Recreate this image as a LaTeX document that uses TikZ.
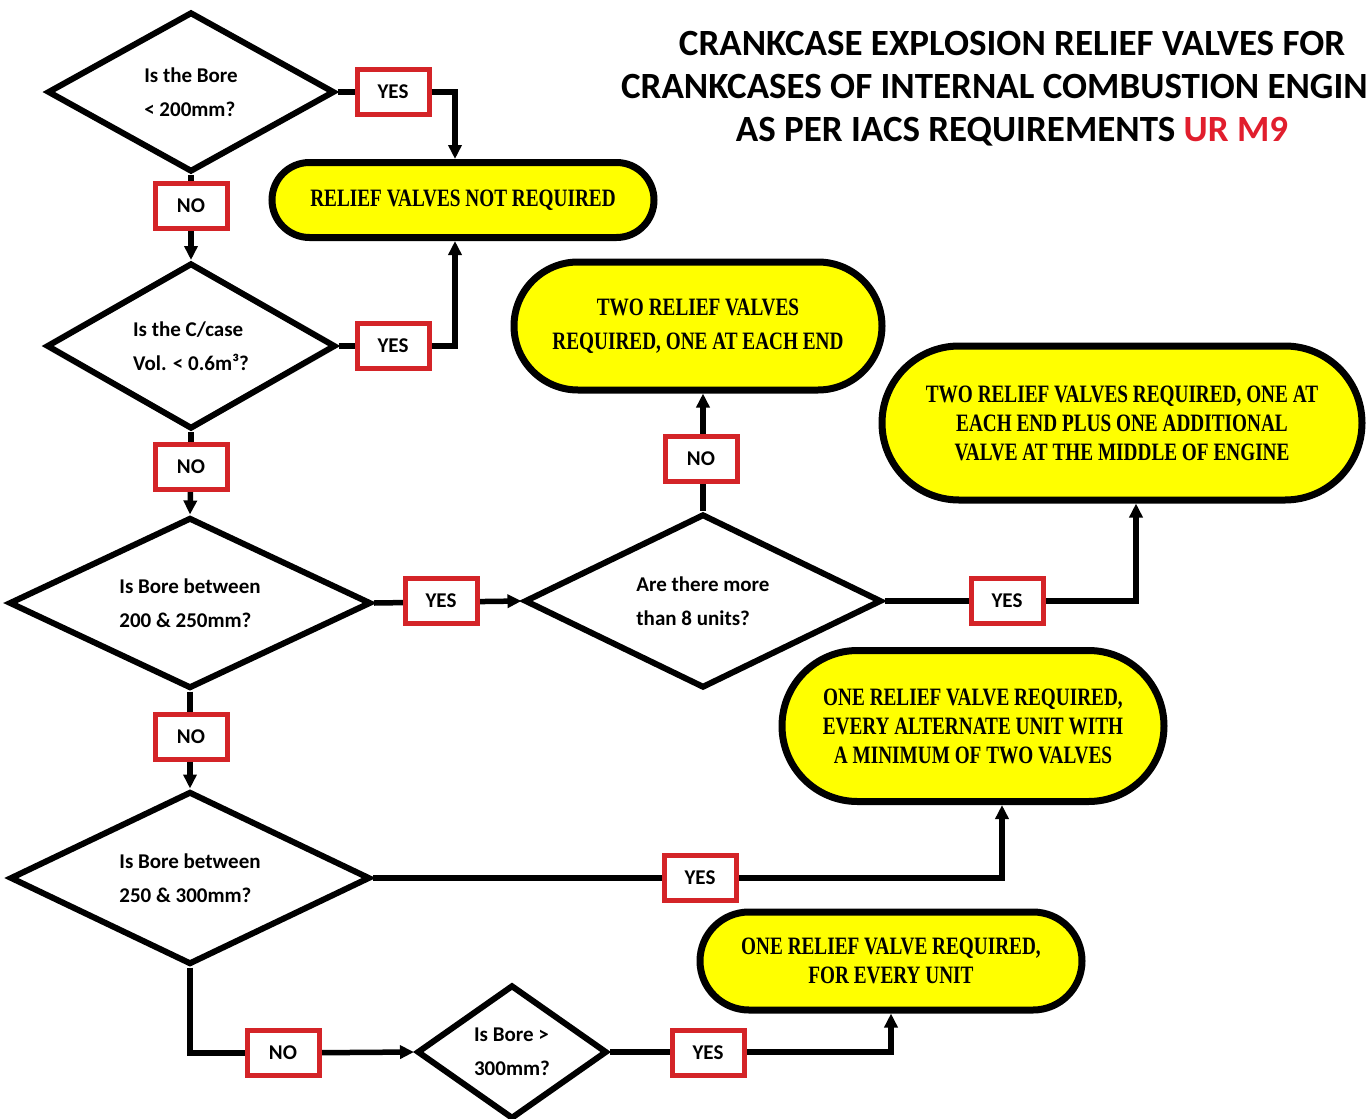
\documentclass[tikz,border=0pt]{standalone}
\usepackage{fontspec}
\setmainfont{Carlito}
\newfontfamily\termfont[FakeStretch=0.77]{Liberation Serif}
\usetikzlibrary{shapes.geometric,shapes.misc,arrows.meta}
\definecolor{boxred}{RGB}{212,36,40}
\definecolor{urred}{RGB}{225,30,45}
\definecolor{termyellow}{RGB}{255,255,0}
\tikzset{
  dec/.style={diamond, draw, line width=6pt, inner sep=0pt, aspect=2, align=left,
    fill=white, font=\bfseries\fontsize{21}{34}\selectfont},
  lab/.style={draw=boxred, fill=white, line width=5pt, minimum width=72pt,
    minimum height=45pt, inner sep=0pt, font=\bfseries\fontsize{21}{21}\selectfont},
  term/.style={rounded rectangle, draw, line width=7pt, fill=termyellow, align=center,
    inner sep=0pt, font=\termfont\bfseries\fontsize{25}{29}\selectfont},
  conn/.style={line width=5.5pt},
  arr/.style={conn, -{Triangle[length=14pt,width=13pt]}}
}
\begin{document}
\begin{tikzpicture}[x=1pt,y=-1pt]
\path[use as bounding box] (0,0) rectangle (1369,1119);
\fill[white] (0,0) rectangle (1369,1119);
\clip (0,0) rectangle (1369,1119);

% title
\node[font=\bfseries\fontsize{37}{43}\selectfont, align=center] (title) at (1012,89)
  {CRANKCASE EXPLOSION RELIEF VALVES FOR\\CRANKCASES OF INTERNAL COMBUSTION ENGINES\\AS PER IACS REQUIREMENTS \textcolor{urred}{UR M9}};

% decisions
\node[dec, minimum width=287pt, minimum height=160pt] (d1) at (191,92) {Is the Bore\\< 200mm?};
\node[dec, minimum width=289pt, minimum height=166pt] (d2) at (191,346) {Is the C/case\\Vol. < 0.6m³?};
\node[dec, minimum width=362pt, minimum height=171pt] (d3) at (190,603) {Is Bore between\\200 \& 250mm?};
\node[dec, minimum width=357pt, minimum height=174pt] (d4) at (703,601) {Are there more\\than 8 units?};
\node[dec, minimum width=360pt, minimum height=173pt] (d5) at (190,878) {Is Bore between\\250 \& 300mm?};
\node[dec, minimum width=190pt, minimum height=134pt] (d6) at (512,1052) {Is Bore >\\300mm?};

% terminals
\node[term, minimum width=382pt, minimum height=75pt] (o1) at (463,200) {RELIEF VALVES NOT REQUIRED};
\node[term, minimum width=368pt, minimum height=128pt, font=\termfont\bfseries\fontsize{25}{34}\selectfont] (o2) at (698,326) {TWO RELIEF VALVES\\REQUIRED, ONE AT EACH END};
\node[term, minimum width=480pt, minimum height=154pt] (o3) at (1122,423) {TWO RELIEF VALVES REQUIRED, ONE AT\\EACH END PLUS ONE ADDITIONAL\\VALVE AT THE MIDDLE OF ENGINE};
\node[term, minimum width=382pt, minimum height=151pt] (o4) at (973,726) {ONE RELIEF VALVE REQUIRED,\\EVERY ALTERNATE UNIT WITH\\A MINIMUM OF TWO VALVES};
\node[term, minimum width=382pt, minimum height=98pt] (o5) at (891,961) {ONE RELIEF VALVE REQUIRED,\\FOR EVERY UNIT};

% connectors (drawn before labels so the labels sit on top)
\draw[conn] (d1.south) -- (d1.south |- 0,206) coordinate (c1);
\draw[arr] (c1) -- (d2.north);
\draw[conn] (d1.east) -- (393,92) coordinate (c2);
\draw[arr] (c2) -| ([xshift=-8pt]o1.north);
\draw[conn] (d2.east) -- (393,346) coordinate (c3);
\draw[arr] (c3) -| ([xshift=-8pt]o1.south);
\draw[conn] (d2.south) -- (d2.south |- 0,467) coordinate (c4);
\draw[arr] (c4) -- (d3.north);
\draw[arr] (d3.east) -- (d4.west);
\draw[arr] (d4.north) -- (d4.north |- o2.south);
\draw[conn] (d4.east) -- (1007,601) coordinate (c5);
\draw[arr] (c5) -| ([xshift=14pt]o3.south);
\draw[conn] (d3.south) -- (d3.south |- 0,737) coordinate (c6);
\draw[arr] (c6) -- (d5.north);
\draw[conn] (d5.east) -- (700,878) coordinate (c7);
\draw[arr] (c7) -| ([xshift=29pt]o4.south);
\draw[conn] (d5.south) |- (283,1053) coordinate (c8);
\draw[arr] (c8) -- (d6.west);
\draw[conn] (d6.east) -- (708,1052) coordinate (c9);
\draw[arr] (c9) -| (o5.south);

% labels
\node[lab] (y1) at (393,92) {YES};
\node[lab] (n1) at (191,206) {NO};
\node[lab] (y2) at (393,346) {YES};
\node[lab] (n2) at (191,467) {NO};
\node[lab] (y3) at (441,601) {YES};
\node[lab] (n4) at (701,459) {NO};
\node[lab] (y5) at (1007,601) {YES};
\node[lab] (n3) at (191,737) {NO};
\node[lab] (y6) at (700,878) {YES};
\node[lab] (n7) at (283,1053) {NO};
\node[lab] (y8) at (708,1053) {YES};
\end{tikzpicture}
\end{document}
